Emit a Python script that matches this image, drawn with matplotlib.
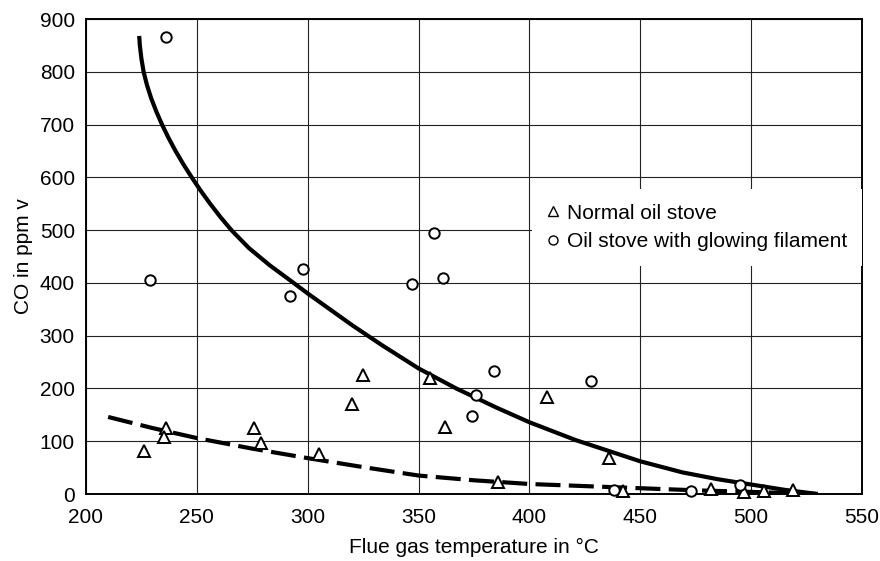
import matplotlib
matplotlib.use("Agg")
import matplotlib.pyplot as plt
from matplotlib.lines import Line2D

plt.rcParams['font.family'] = ['Liberation Sans', 'DejaVu Sans']

# Normal oil stove (triangles)
normal_temp = [226, 236, 235, 276, 279, 305, 320, 325, 355, 362, 408, 436, 386, 442, 482, 497, 506, 519]
normal_co = [82, 125, 108, 125, 97, 75, 170, 225, 220, 127, 183, 68, 22, 5, 10, 4, 6, 8]

# Oil stove with glowing filament (circles)
glow_temp = [236, 229, 298, 292, 347, 357, 361, 384, 376, 374, 428, 438, 473, 495]
glow_co = [865, 405, 427, 375, 397, 494, 410, 233, 188, 148, 215, 8, 5, 18]

# Fitted trend, glowing filament (solid)
glow_fit_temp = [224, 224.3, 225.0, 226.0, 227.5, 229.4, 231.7, 234.3, 237.2, 240.4, 243.9,
                 247.7, 251.7, 256.0, 260.6, 265.6, 273.5, 283, 293, 300, 306, 320, 333.5,
                 350, 367, 385, 400, 421, 450, 469, 485, 500, 515, 530]
glow_fit_co = [868, 850, 825, 800, 775, 750, 725, 700, 675, 650, 625,
               600, 575, 550, 525, 500, 466, 433, 402, 380, 362, 320, 282,
               238, 200, 164, 136, 102, 62, 41, 28, 18, 8, 0]

# Fitted trend, normal stove (dashed)
normal_fit_temp = [210, 230, 250, 275, 300, 325, 350, 375, 400, 425, 450, 475, 500, 530]
normal_fit_co = [146, 125, 106, 86, 68, 51, 35, 26, 19, 15, 11, 7, 4, 0]

x_ticks = [200, 250, 300, 350, 400, 450, 500, 550]
y_ticks = [0, 100, 200, 300, 400, 500, 600, 700, 800, 900]

FS = 15

fig = plt.figure(figsize=(8.8, 5.61), dpi=100)
ax = fig.add_axes([0.0977, 0.1194, 0.8818, 0.8467])

ax.set_xlim(200, 550)
ax.set_ylim(0, 900)
ax.set_xticks(x_ticks)
ax.set_yticks(y_ticks)
ax.grid(True, color='#222222', linewidth=0.8)
ax.set_axisbelow(True)
for s in ax.spines.values():
    s.set_linewidth(1.4)
    s.set_color('black')
ax.tick_params(axis='both', length=0, labelsize=FS)
ax.tick_params(axis='x', pad=10)
ax.tick_params(axis='y', pad=8)

ax.plot(glow_fit_temp, glow_fit_co, color='black', lw=3, solid_capstyle='butt',
        solid_joinstyle='round', zorder=3)
ax.plot(normal_fit_temp, normal_fit_co, color='black', lw=3, ls=(0, (6, 2)), zorder=3)

ax.plot(normal_temp, normal_co, ls='none', marker='^', markersize=9, markerfacecolor='white',
        markeredgecolor='black', markeredgewidth=1.4, zorder=4, clip_on=False)
ax.plot(glow_temp, glow_co, ls='none', marker='o', markersize=7.5, markerfacecolor='white',
        markeredgecolor='black', markeredgewidth=1.4, zorder=4, clip_on=False)

handles = [
    Line2D([], [], ls='none', marker='^', markersize=7.5, markerfacecolor='white',
           markeredgecolor='black', markeredgewidth=1.0),
    Line2D([], [], ls='none', marker='o', markersize=6.5, markerfacecolor='white',
           markeredgecolor='black', markeredgewidth=1.0),
]
leg = ax.legend(handles, ['Normal oil stove', 'Oil stove with glowing filament'],
                loc='upper left', bbox_to_anchor=(0.561, 0.664), frameon=True,
                facecolor='white', edgecolor='none', framealpha=1, fontsize=FS,
                handlelength=0.6, handletextpad=0.4, borderpad=0.7,
                labelspacing=0.45, fancybox=False)
leg.set_zorder(5)

ax.set_xlabel('Flue gas temperature in °C', fontsize=FS)
ax.set_ylabel('CO in ppm v', fontsize=FS)
ax.xaxis.set_label_coords(0.5, -0.093)
ax.yaxis.set_label_coords(-0.068, 0.5)

fig.savefig('out.png', dpi=100)
